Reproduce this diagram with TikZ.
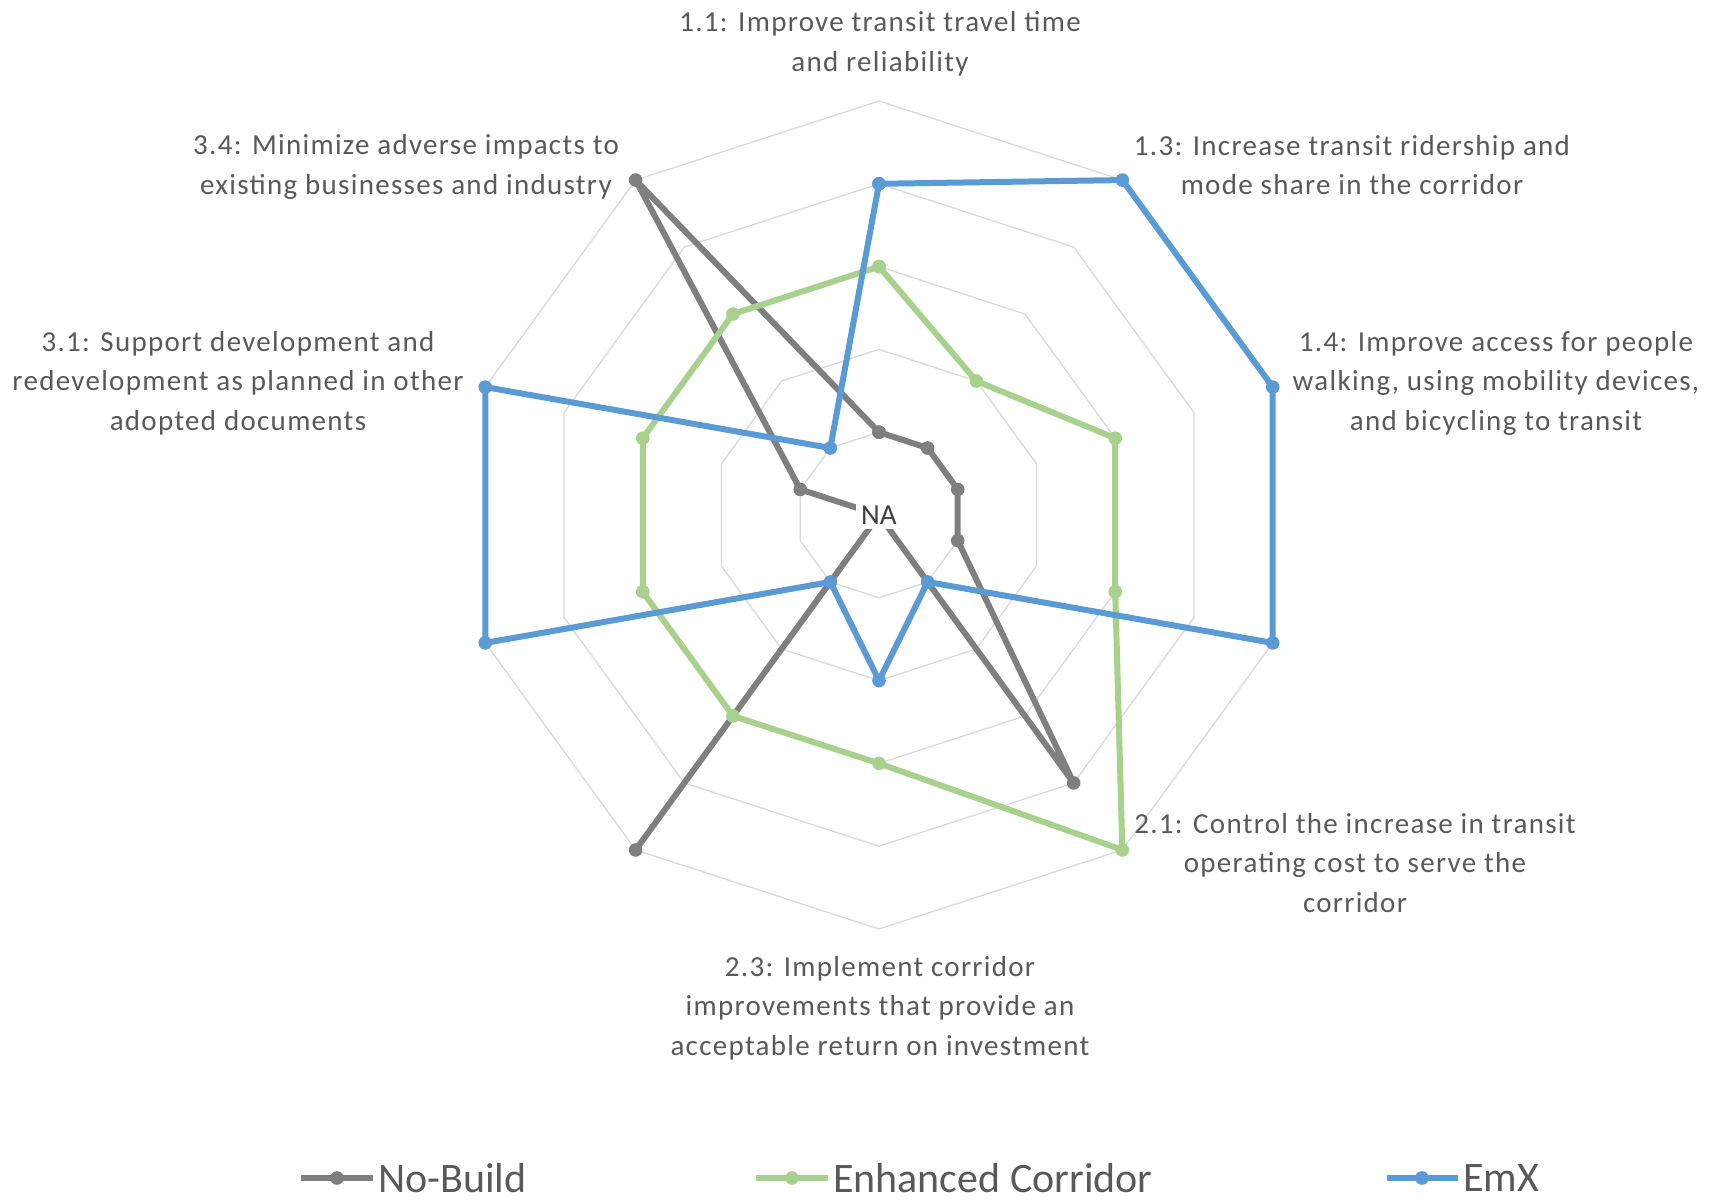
\documentclass[tikz,border=0pt]{standalone}
\usepackage{fontspec}
\setmainfont{Carlito}
\usetikzlibrary{positioning}
\definecolor{nbgray}{HTML}{7F7F7F}
\definecolor{ecgreen}{HTML}{A9D18E}
\definecolor{emxblue}{HTML}{5B9BD5}
\definecolor{gridgray}{HTML}{D9D9D9}
\definecolor{labelgray}{HTML}{595959}
\definecolor{nagray}{HTML}{404040}
\def\unit{82.8pt}

\begin{document}
\begin{tikzpicture}[x=1pt, y=1pt,
	ring/.style={draw=gridgray, line width=1.3pt},
	series/.style={line width=6pt, line join=round, mark=*, mark size=6.3pt, mark options={line width=1pt}},
	axislabel/.style={align=center, text=labelgray, font=\fontsize{29}{39.5}\selectfont\addfontfeature{LetterSpace=4.5}},
	legtext/.style={text=labelgray, font=\fontsize{42}{48}\selectfont, inner sep=0pt}]
			%%%%% START %%%%%
			
			\useasboundingbox (-879, -687) rectangle (840, 515);
			
			\begin{scope}[x=\unit, y=\unit]
			% rings
			\draw[ring] (90:1) -- (54:1) -- (18:1) -- (-18:1) -- (-54:1) -- (-90:1) -- (-126:1) -- (-162:1) -- (162:1) -- (126:1) -- cycle;
			\draw[ring] (90:2) -- (54:2) -- (18:2) -- (-18:2) -- (-54:2) -- (-90:2) -- (-126:2) -- (-162:2) -- (162:2) -- (126:2) -- cycle;
			\draw[ring] (90:3) -- (54:3) -- (18:3) -- (-18:3) -- (-54:3) -- (-90:3) -- (-126:3) -- (-162:3) -- (162:3) -- (126:3) -- cycle;
			\draw[ring] (90:4) -- (54:4) -- (18:4) -- (-18:4) -- (-54:4) -- (-90:4) -- (-126:4) -- (-162:4) -- (162:4) -- (126:4) -- cycle;
			\draw[ring] (90:5) -- (54:5) -- (18:5) -- (-18:5) -- (-54:5) -- (-90:5) -- (-126:5) -- (-162:5) -- (162:5) -- (126:5) -- cycle;
			
			% No-Build
			\draw[series, color=nbgray] plot coordinates {(90:1) (54:1) (18:1) (-18:1) (-54:4) (0,0) (-126:5) (0,0) (162:1) (126:5) (90:1)};
			
			% Enhanced Corridor
			\draw[series, color=ecgreen] plot coordinates {(90:3) (54:2) (18:3) (-18:3) (-54:5) (-90:3) (-126:3) (-162:3) (162:3) (126:3) (90:3)};
			
			% EmX
			\draw[series, color=emxblue] plot coordinates {(90:4) (54:5) (18:5) (-18:5) (-54:1) (-90:2) (-126:1) (-162:5) (162:5) (126:1) (90:4)};
			\end{scope}
			
			\node[fill=white, text=nagray, font=\fontsize{29}{34}\selectfont, inner sep=5pt] (na) at (0, 0) {NA};
			
			% axis labels
			\node[axislabel] (lbl11) at (1, 471) {1.1: Improve transit travel time\\and reliability};
			\node[axislabel] (lbl13) at (473, 350) {1.3: Increase transit ridership and\\mode share in the corridor};
			\node[axislabel] (lbl14) at (617, 132) {1.4: Improve access for people\\walking, using mobility devices,\\and bicycling to transit};
			\node[axislabel] (lbl21) at (476, -348) {2.1: Control the increase in transit\\operating cost to serve the\\corridor};
			\node[axislabel] (lbl23) at (1, -493) {2.3: Implement corridor\\improvements that provide an\\acceptable return on investment};
			\node[axislabel] (lbl31) at (-641, 132) {3.1: Support development and\\redevelopment as planned in other\\adopted documents};
			\node[axislabel] (lbl34) at (-473, 348) {3.4: Minimize adverse impacts to\\existing businesses and industry};
			
			% legend
			\coordinate (nbl) at (-578, -663);
			\coordinate (nbr) at (-506, -663);
			\draw[series, color=nbgray] plot[mark indices={2}] coordinates {(nbl) (-542, -663) (nbr)};
			\node[legtext, right=5pt of nbr] (nbtext) {No-Build};
			
			\coordinate (ecl) at (-123, -663);
			\coordinate (ecr) at (-51, -663);
			\draw[series, color=ecgreen] plot[mark indices={2}] coordinates {(ecl) (-87, -663) (ecr)};
			\node[legtext, right=5pt of ecr] (ectext) {Enhanced Corridor};
			
			\coordinate (emxl) at (508, -663);
			\coordinate (emxr) at (579, -663);
			\draw[series, color=emxblue] plot[mark indices={2}] coordinates {(emxl) (543, -663) (emxr)};
			\node[legtext, right=5pt of emxr] (emxtext) {EmX};
			
			%%%%% END %%%%%
		\end{tikzpicture}
\end{document}
